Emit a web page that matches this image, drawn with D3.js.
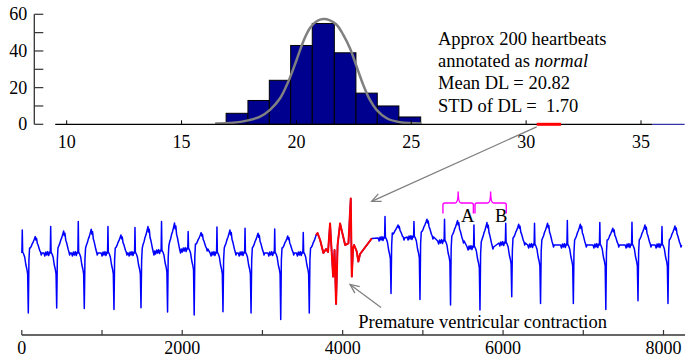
<!DOCTYPE html>
<html>
<head>
<meta charset="utf-8">
<script src="https://cdn.jsdelivr.net/npm/d3@7"></script>
<style>
  body { margin: 0; background: #fff; }
  svg { display: block; font-family: "Liberation Serif", "Times New Roman", serif; }
</style>
</head>
<body>
<div id="chart"></div>
<script>
// --- histogram of DL for beats annotated as normal ---
const binEdges = [16.94, 17.89, 18.82, 19.75, 20.69, 21.65, 22.59, 23.52, 24.46, 25.41];
const binCounts = [6, 13, 24, 43, 55, 39, 17, 10, 4];
const fitX = [16.46, 17.25, 17.84, 18.42, 18.85, 19.29, 19.65, 20.01, 20.30, 20.59, 20.88, 21.17,
  21.46, 21.75, 22.04, 22.33, 22.62, 22.91, 23.20, 23.49, 23.93, 24.51, 25.45];
const fitY = [0.5, 0.9, 2.0, 4.2, 7.9, 14.2, 23.4, 35.2, 45.2, 52.5, 56.2, 57.4,
  56.7, 54.3, 48.8, 41.5, 31.5, 21.5, 13.3, 7.9, 3.3, 1.1, 0.5];
const histTicksX = [10, 15, 20, 25, 30, 35];
const histTicksY = [0, 10, 20, 30, 40, 50, 60];
const histLabelsY = [0, 20, 40, 60];
const pvcDL = [30.46, 31.52];
const tailDL = [35.5, 36.9];
const noteLines = [
  [["Approx 200 heartbeats", false]],
  [["annotated as ", false], ["normal", true]],
  [["Mean DL = 20.82", false]],
  [["STD of DL =  1.70", false]]
];

// --- ECG trace ---
// sample of each S trough, and levels (mV) read per beat
const beatS     = [81, 435, 779, 1149, 1486, 1817, 2149, 2508, 2858, 3228, 3584,
                   4603, 4964, 5345, 5712, 6108, 6467, 6876, 7281, 7682, 8056];
const beatDepth = [-3.25, -3.0, -3.02, -3.07, -2.99, -3.2, -3.35, -3.19, -3.25, -3.57, -3.25,
                   -2.27, -2.57, -2.85, -3.1, -2.44, -2.77, -2.77, -3.07, -2.64, -2.77];
const beatR     = [0.9, 1.07, 1.32, 1.07, 1.02, 1.32, 0.82, 1.05, 0.99, 0.95, 0.77,
                   1.57, 1.32, 1.44, 1.15, 1.24, 1.24, 1.37, 1.27, 1.29, 1.07];
const beatT     = [0.57, 0.85, 0.94, 0.65, 1.07, 1.25, 0.77, 0.9, 0.74, 0.6, 0.65,
                   1.15, 1.44, 1.37, 1.27, 1.19, 1.24, 1.19, 0.99, 1.15, 1.1];
const beatBase  = [-0.3, -0.3, -0.3, -0.3, -0.3, -0.2, -0.1, -0.3, -0.3, -0.3, -0.3,
                   0.45, 0.5, 0.3, 0.0, 0.2, 0.1, 0.1, 0.1, 0.1, 0.1];
// shape of one normal beat: [offset from S in samples, which level, fraction]
const beatShape = [
  [-160, 'b', 0.05], [-148, 'b', -0.1], [-136, 'b', 0.1], [-124, 'b', -0.05],
  [-112, 'b', 0.12], [-100, 'b', -0.08], [-88, 'b', 0.1], [-80, 'b', 0.05],
  [-75, 'r', 1], [-70, 'b', 0.1], [-58, 'b', 0.0], [-45, 'b', -0.15],
  [-30, 'b', -0.55], [-18, 'b', -0.75], [-8, 'b', -1.0], [0, 's', 1],
  [8, 'b', -0.3], [16, 'b', 0.3], [26, 't', 0.35], [38, 't', 0.45],
  [50, 't', 0.6], [62, 't', 0.7], [75, 't', 0.85], [87, 't', 1],
  [95, 't', 0.8], [103, 't', 0.9], [113, 't', 0.6], [123, 't', 0.5],
  [133, 't', 0.35], [143, 't', 0.2], [153, 'b', 0.1], [162, 'b', -0.05], [170, 'b', 0.05]
];
// premature ventricular contraction (red)
const pvcSamples = [3669, 3687, 3719, 3760, 3793, 3818, 3843, 3862, 3881, 3899, 3918, 3937,
  3968, 3993, 4031, 4072, 4101, 4114, 4130, 4143, 4176, 4196, 4217, 4255, 4292, 4330, 4363];
const pvcValues = [0.65, 0.75, 0.4, -0.25, -0.05, -0.2, 1.23, -0.1, -1.43, -0.1, -2.8, 0.15,
  1.23, 0.8, 0.15, 0.23, 2.48, -1.43, 0, 0.15, -0.18, -0.68, -0.3, -0.1, 0.1, 0.3, 0.48];
const ecgTicks = [0, 1000, 2000, 3000, 4000, 5000, 6000, 7000, 8000];
const ecgLabels = [0, 2000, 4000, 6000, 8000];
const braceA = [5250, 5630];
const braceB = [5650, 6040];

const width = 685, height = 357;
const svg = d3.select("#chart").append("svg")
  .attr("width", width).attr("height", height)
  .attr("viewBox", [0, 0, width, height]);

// ---------- histogram ----------
const hx = d3.scaleLinear([10, 35], [66.7, 641]);
const hy = d3.scaleLinear([0, 60], [124.3, 14.3]);

svg.append("g")
  .selectAll("rect")
  .data(binCounts)
  .join("rect")
  .attr("x", (d, i) => hx(binEdges[i]))
  .attr("width", (d, i) => hx(binEdges[i + 1]) - hx(binEdges[i]))
  .attr("y", d => hy(d))
  .attr("height", d => hy(0) - hy(d))
  .attr("fill", "#00008f")
  .attr("stroke", "#000")
  .attr("stroke-width", 1);

svg.append("path")
  .datum(fitX.map((x, i) => [x, fitY[i]]))
  .attr("fill", "none")
  .attr("stroke", "#808080")
  .attr("stroke-width", 2.5)
  .attr("d", d3.line(d => hx(d[0]), d => hy(d[1])).curve(d3.curveCatmullRom));

// x axis of histogram
const hxAxis = svg.append("g").attr("transform", `translate(0,${hy(0)})`);
hxAxis.append("line")
  .attr("x1", hx(9.5)).attr("x2", hx(tailDL[0]))
  .attr("stroke", "#000").attr("stroke-width", 1.3);
hxAxis.append("line")
  .attr("x1", hx(tailDL[0])).attr("x2", hx(tailDL[1]))
  .attr("stroke", "#000099").attr("stroke-width", 1);
hxAxis.selectAll(".tk").data(histTicksX).join("line")
  .attr("x1", d => hx(d)).attr("x2", d => hx(d))
  .attr("y1", 0).attr("y2", -4)
  .attr("stroke", "#000").attr("stroke-width", 1);
hxAxis.selectAll("text").data(histTicksX).join("text")
  .attr("x", d => hx(d)).attr("y", 24)
  .attr("text-anchor", "middle")
  .attr("font-size", 18)
  .text(d => d);
hxAxis.append("line")
  .attr("x1", hx(pvcDL[0])).attr("x2", hx(pvcDL[1]))
  .attr("stroke", "#ff0000").attr("stroke-width", 3);

// y axis of histogram
const hyAxis = svg.append("g").attr("transform", "translate(34.3,0)");
hyAxis.append("line")
  .attr("y1", hy(0)).attr("y2", hy(60))
  .attr("stroke", "#333").attr("stroke-width", 1.3);
hyAxis.selectAll(".tk").data(histTicksY).join("line")
  .attr("y1", d => hy(d)).attr("y2", d => hy(d))
  .attr("x1", 0).attr("x2", 9)
  .attr("stroke", "#333").attr("stroke-width", 1.2);
hyAxis.selectAll("text").data(histLabelsY).join("text")
  .attr("x", -7).attr("y", d => hy(d))
  .attr("dy", "0.33em")
  .attr("text-anchor", "end")
  .attr("font-size", 18)
  .text(d => d);

// note
const note = svg.append("text")
  .attr("font-size", 18.5)
  .attr("xml:space", "preserve")
  .style("white-space", "pre");
noteLines.forEach((parts, i) => {
  parts.forEach(([txt, it], j) => {
    const ts = note.append("tspan").text(txt);
    if (j === 0) ts.attr("x", 438).attr("y", 44.5 + i * 22.4);
    if (it) ts.attr("font-style", "italic");
  });
});

// ---------- ECG ----------
const ex = d3.scaleLinear([0, 8268], [21.8, 685]);
const ey = d3.scaleLinear([-3.5, 2.5], [318, 198]);
const pvcRange = [pvcSamples[0], pvcSamples[pvcSamples.length - 1]];

const ecgPts = [];
beatS.forEach((s, i) => {
  const base = beatBase[i];
  beatShape.forEach(([dt, role, f]) => {
    const t = s + dt;
    if (t < 0 || t > 8268 || (t >= pvcRange[0] && t <= pvcRange[1])) return;
    const peak = role === 'r' ? beatR[i] : role === 's' ? beatDepth[i] : role === 't' ? beatT[i] : null;
    ecgPts.push([t, peak === null ? base + f : base + f * (peak - base)]);
  });
});
pvcSamples.forEach((t, i) => ecgPts.push([t, pvcValues[i]]));
ecgPts.sort((a, b) => a[0] - b[0]);

const ecgLine = d3.line(d => ex(d[0]), d => ey(d[1]));
svg.append("path")
  .datum(ecgPts)
  .attr("fill", "none")
  .attr("stroke", "#0000ff")
  .attr("stroke-width", 1.5)
  .attr("stroke-linejoin", "round")
  .attr("d", ecgLine);
svg.append("path")
  .datum(pvcSamples.map((t, i) => [t, pvcValues[i]]))
  .attr("fill", "none")
  .attr("stroke", "#ff0000")
  .attr("stroke-width", 2)
  .attr("stroke-linejoin", "round")
  .attr("d", ecgLine);

// braces A / B
function brace(range, label) {
  const x0 = ex(range[0]), x1 = ex(range[1]), xm = (x0 + x1) / 2;
  const top = 203, tip = 191.5, foot = 213.5;
  svg.append("path")
    .attr("fill", "none")
    .attr("stroke", "#ff00ff")
    .attr("stroke-width", 1.4)
    .attr("d", `M${x0},${foot} L${x0},${top + 2} Q${x0},${top} ${x0 + 2},${top}
      L${xm - 3},${top} Q${xm},${top} ${xm},${tip} Q${xm},${top} ${xm + 3},${top}
      L${x1 - 2},${top} Q${x1},${top} ${x1},${top + 2} L${x1},${foot}`);
  svg.append("text")
    .attr("x", x1 + 1).attr("y", 221.5)
    .attr("text-anchor", "end")
    .attr("font-size", 18.5)
    .text(label);
}
brace(braceA, "A");
brace(braceB, "B");

// arrows
function arrow(x1, y1, x2, y2) {
  const a = Math.atan2(y2 - y1, x2 - x1), len = 10, spread = 0.42;
  const g = svg.append("g").attr("stroke", "#808080").attr("stroke-width", 1.3).attr("fill", "none");
  g.append("line").attr("x1", x1).attr("y1", y1).attr("x2", x2).attr("y2", y2);
  g.append("path").attr("d",
    `M${x2 - len * Math.cos(a - spread)},${y2 - len * Math.sin(a - spread)} L${x2},${y2} ` +
    `L${x2 - len * Math.cos(a + spread)},${y2 - len * Math.sin(a + spread)}`);
}
arrow(hx(pvcDL[0]), hy(0) + 2.5, ex(4362), ey(2.33));
arrow(ex(4478), ey(-2.98), ex(4092), ey(-1.82));

svg.append("text")
  .attr("x", 358.3).attr("y", 327.7)
  .attr("font-size", 18.5)
  .text("Premature ventricular contraction");

// bottom axis
const eAxis = svg.append("g").attr("transform", "translate(0,335)");
eAxis.append("line")
  .attr("x1", ex(0)).attr("x2", ex(8268))
  .attr("stroke", "#333").attr("stroke-width", 1.3);
eAxis.selectAll(".tk").data(ecgTicks).join("line")
  .attr("x1", d => ex(d)).attr("x2", d => ex(d))
  .attr("y1", 0).attr("y2", -5)
  .attr("stroke", "#333").attr("stroke-width", 1.2);
eAxis.selectAll("text").data(ecgLabels).join("text")
  .attr("x", d => ex(d)).attr("y", 19)
  .attr("text-anchor", "middle")
  .attr("font-size", 18)
  .text(d => d);
</script>
</body>
</html>
